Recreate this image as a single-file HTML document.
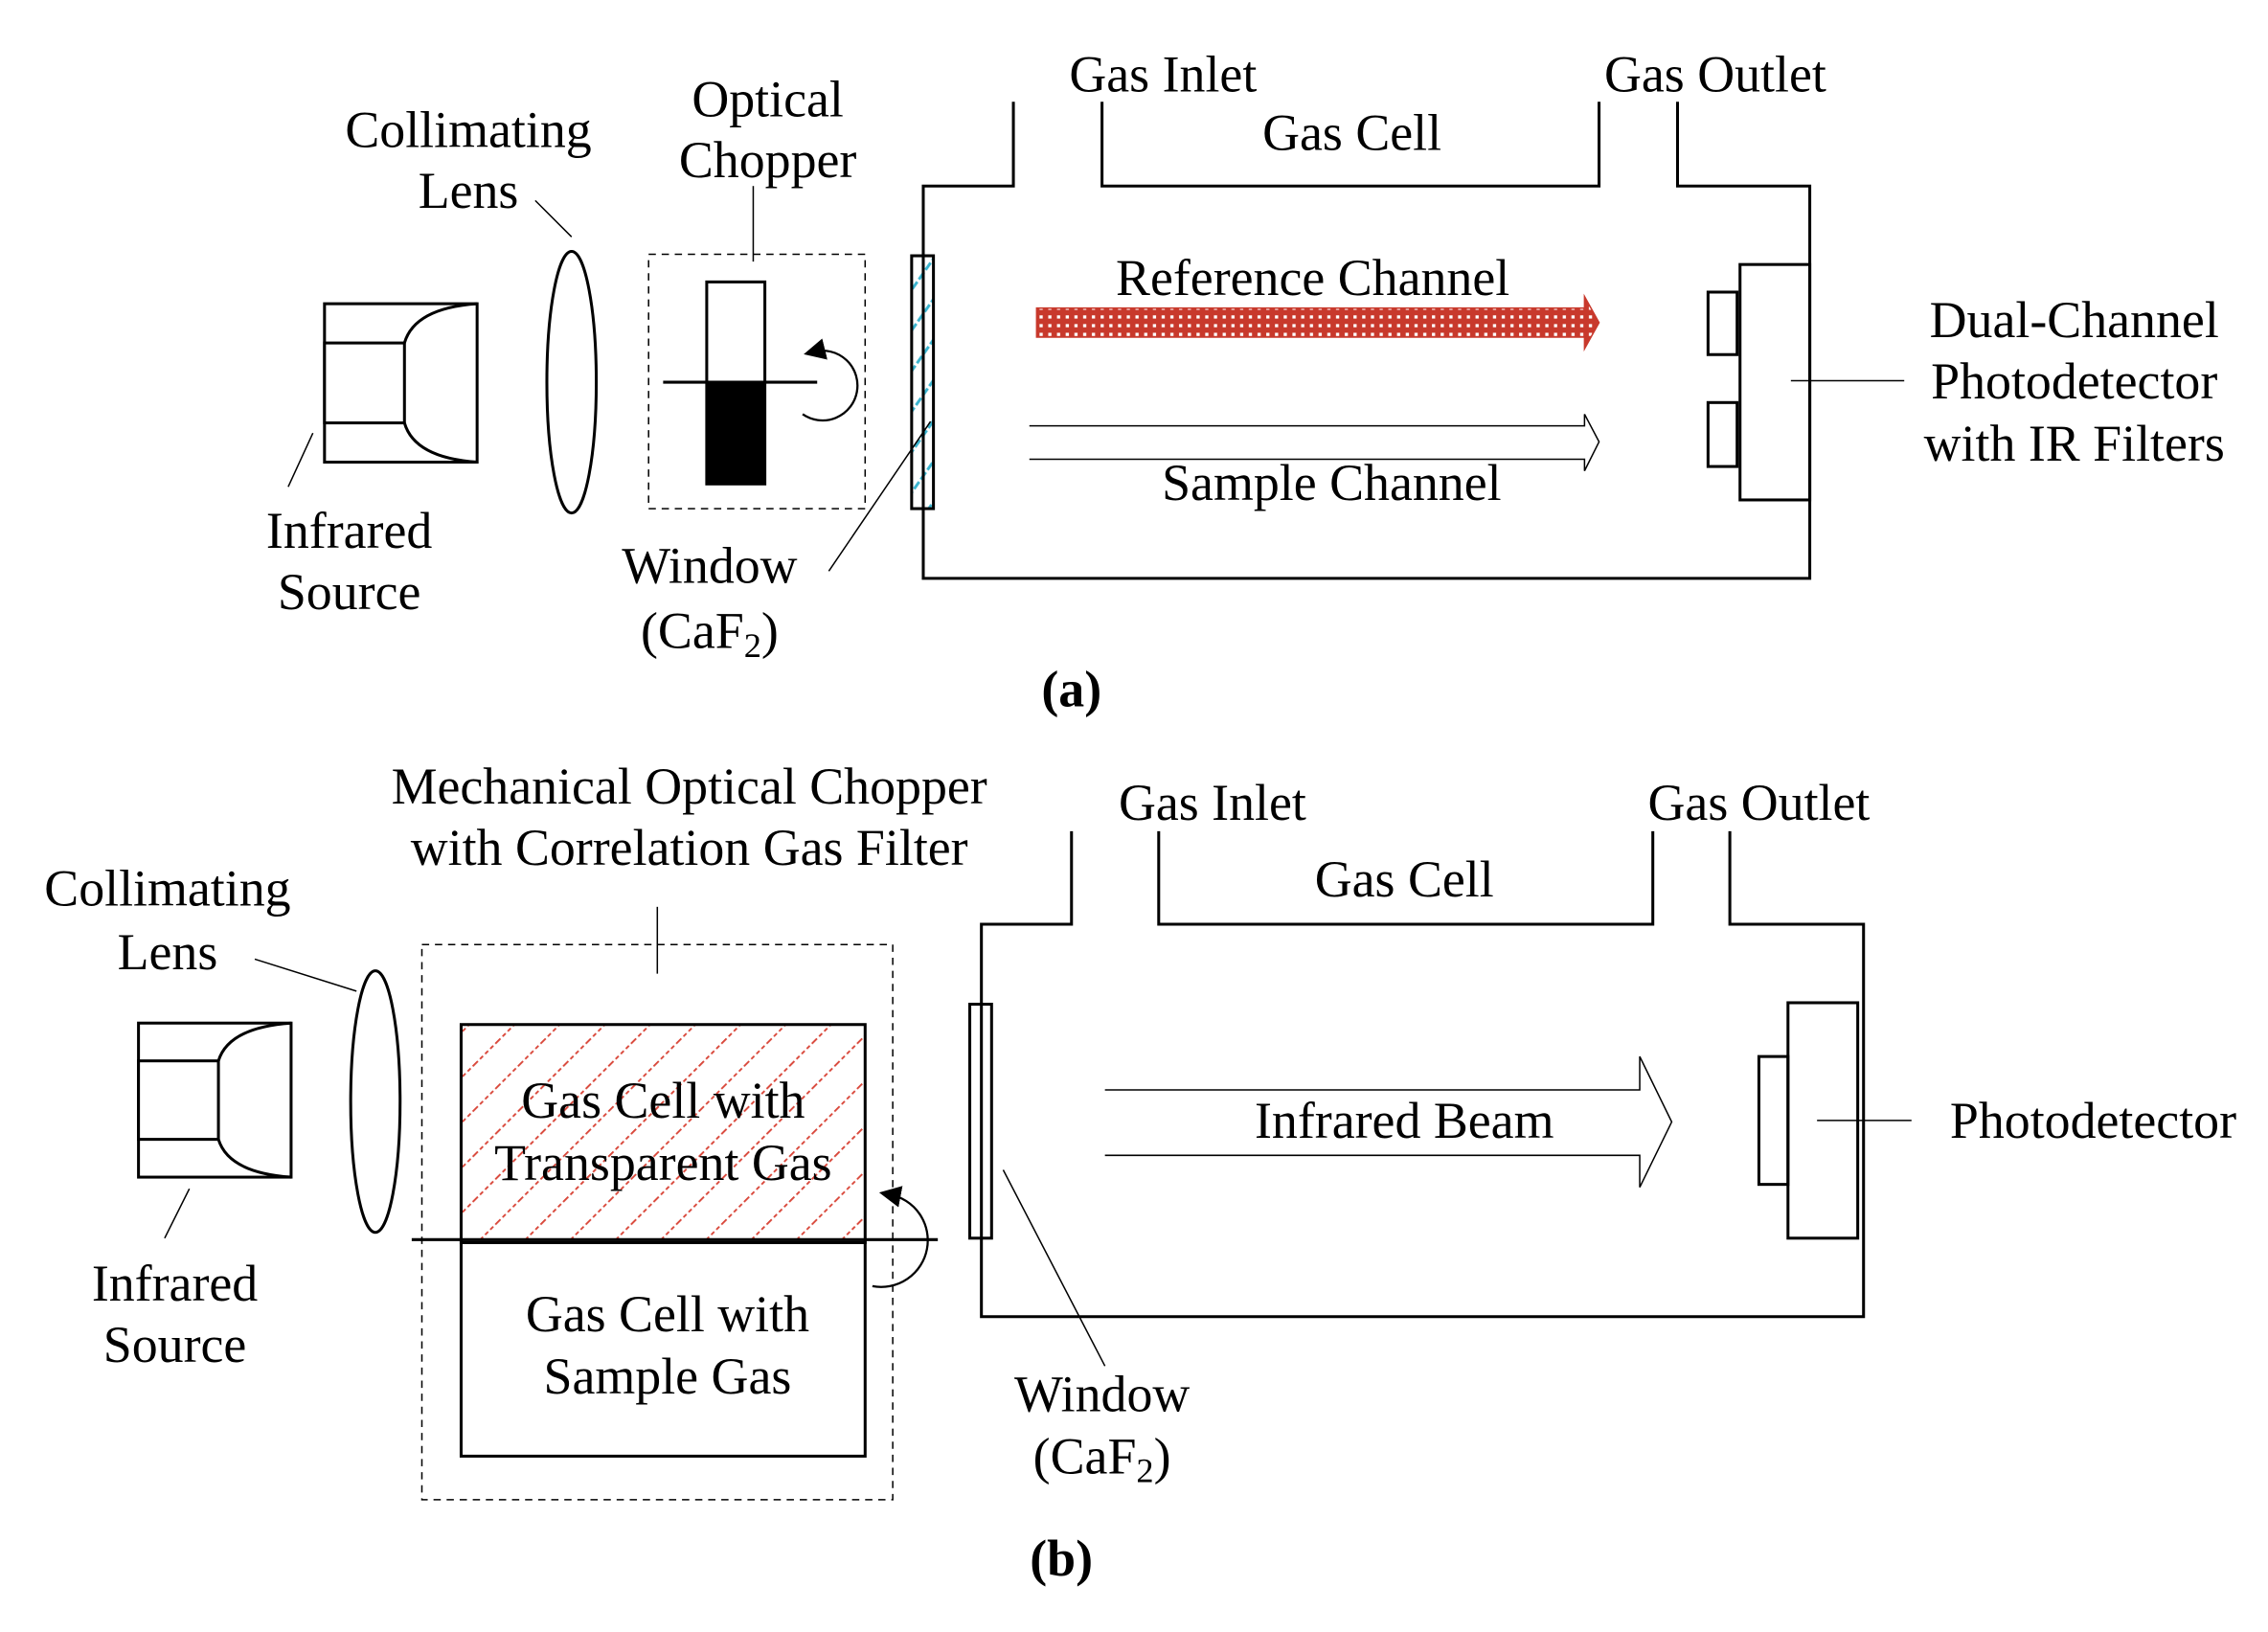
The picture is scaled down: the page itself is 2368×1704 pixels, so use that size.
<!DOCTYPE html>
<html><head><meta charset="utf-8"><style>
html,body{margin:0;padding:0;background:#fff;}
svg{display:block;}
text{font-family:"Liberation Serif",serif;font-size:35.5px;fill:#000;text-anchor:middle;}
</style></head><body>
<svg width="2368" height="1704" viewBox="0 0 1560 1123" xmlns="http://www.w3.org/2000/svg">
<defs>
<pattern id="cyan" width="8" height="16" patternUnits="userSpaceOnUse" patternTransform="rotate(-55)">
<line x1="0" y1="4" x2="8" y2="4" stroke="#3ab4cf" stroke-width="2" stroke-dasharray="3,2"/>
</pattern>
<pattern id="redh" width="22" height="22" patternUnits="userSpaceOnUse" patternTransform="rotate(45)">
<line x1="0" y1="0" x2="0" y2="22" stroke="#d9473a" stroke-width="2.5" stroke-dasharray="3,2"/>
</pattern>
<pattern id="dots" width="6" height="6" patternUnits="userSpaceOnUse">
<rect width="6" height="6" fill="#c8392c"/><rect x="1" y="1" width="2.2" height="2.2" fill="#fff"/>
</pattern>
<marker id="ah" markerWidth="10" markerHeight="10" refX="5" refY="5" orient="auto"><path d="M0,0 L10,5 L0,10 Z" fill="#000"/></marker>
</defs>
<g fill="none" stroke="#000" stroke-width="2">
<rect x="223" y="209" width="105" height="109"/>
<rect x="223" y="236" width="55" height="55" fill="#fff"/>
<path d="M278,236 Q285,212 328,209 M278,291 Q285,315 328,318" fill="none"/>
<line x1="198" y1="335" x2="215" y2="298" stroke-width="1"/>
<ellipse cx="393" cy="263" rx="17" ry="90"/>
<line x1="368" y1="138" x2="393" y2="163" stroke-width="1"/>
<rect x="446" y="175" width="149" height="175" stroke-dasharray="5,4" stroke-width="1"/>
<rect x="486" y="194" width="40" height="69"/>
<rect x="486" y="263" width="40" height="70" fill="#000"/>
<line x1="456" y1="263" x2="562" y2="263"/>
<path d="M552,285 A24,24 0 1,0 560,242" stroke-width="1.5" marker-end="url(#ah)"/>
<line x1="518" y1="128" x2="518" y2="180" stroke-width="1"/>
<rect x="627" y="176" width="15" height="174" fill="url(#cyan)"/>
<line x1="570" y1="393" x2="640" y2="290" stroke-width="1"/>
<polyline points="697,70 697,128 635,128 635,398 1245,398 1245,128 1154,128 1154,70"/>
<polyline points="758,70 758,128 1100,128 1100,70"/>
<path d="M713,212 L1090,212 L1090,204 L1100,222 L1090,240 L1090,232 L713,232 Z" fill="url(#dots)" stroke="#c8392c" stroke-width="1"/>
<path d="M708,293 L1090,293 L1090,285 L1100,304 L1090,324 L1090,316 L708,316" stroke-width="1"/>
<rect x="1197" y="182" width="48" height="162"/>
<rect x="1175" y="201" width="20" height="43"/>
<rect x="1175" y="277" width="20" height="44"/>
<line x1="1232" y1="262" x2="1310" y2="262" stroke-width="1"/>
<rect x="95" y="704" width="105" height="106"/>
<rect x="95" y="730" width="55" height="54" fill="#fff"/>
<path d="M150,730 Q157,707 200,704 M150,784 Q157,807 200,810"/>
<line x1="113" y1="852" x2="130" y2="818" stroke-width="1"/>
<ellipse cx="258" cy="758" rx="17" ry="90"/>
<line x1="175" y1="660" x2="245" y2="682" stroke-width="1"/>
<rect x="290" y="650" width="324" height="382" stroke-dasharray="5,4" stroke-width="1"/>
<line x1="452" y1="624" x2="452" y2="670" stroke-width="1"/>
<rect x="317" y="705" width="278" height="150" fill="url(#redh)"/>
<rect x="317" y="855" width="278" height="147"/>
<line x1="283" y1="853" x2="645" y2="853"/>
<path d="M600,885 A30,30 0 1,0 612,822" stroke-width="1.5" marker-end="url(#ah)"/>
<rect x="667" y="691" width="15" height="161"/>
<line x1="690" y1="805" x2="760" y2="940" stroke-width="1"/>
<polyline points="737,572 737,636 675,636 675,906 1282,906 1282,636 1190,636 1190,572"/>
<polyline points="797,572 797,636 1137,636 1137,572"/>
<path d="M760,750 L1128,750 L1128,727 L1150,772 L1128,817 L1128,795 L760,795" stroke-width="1"/>
<rect x="1230" y="690" width="48" height="162"/>
<rect x="1210" y="727" width="20" height="88"/>
<line x1="1250" y1="771" x2="1315" y2="771" stroke-width="1"/>
</g>
<text x="322" y="101">Collimating</text>
<text x="322" y="143">Lens</text>
<text x="528" y="80">Optical</text>
<text x="528" y="122">Chopper</text>
<text x="240" y="377">Infrared</text>
<text x="240" y="419">Source</text>
<text x="488" y="401">Window</text>
<text x="488" y="446">(CaF<tspan font-size="24" dy="6">2</tspan><tspan dy="-6">)</tspan></text>
<text x="800" y="63">Gas Inlet</text>
<text x="930" y="103">Gas Cell</text>
<text x="1180" y="63">Gas Outlet</text>
<text x="903" y="203">Reference Channel</text>
<text x="916" y="344">Sample Channel</text>
<text x="1427" y="232">Dual-Channel</text>
<text x="1427" y="274">Photodetector</text>
<text x="1427" y="317">with IR Filters</text>
<text x="737" y="486" font-weight="bold" font-size="43">(a)</text>
<text x="474" y="553">Mechanical Optical Chopper</text>
<text x="474" y="595">with Correlation Gas Filter</text>
<text x="115" y="623">Collimating</text>
<text x="115" y="667">Lens</text>
<text x="120" y="895">Infrared</text>
<text x="120" y="937">Source</text>
<text x="456" y="769">Gas Cell with</text>
<text x="456" y="812">Transparent Gas</text>
<text x="459" y="916">Gas Cell with</text>
<text x="459" y="959">Sample Gas</text>
<text x="834" y="564">Gas Inlet</text>
<text x="966" y="617">Gas Cell</text>
<text x="1210" y="564">Gas Outlet</text>
<text x="966" y="783">Infrared Beam</text>
<text x="1440" y="783">Photodetector</text>
<text x="758" y="971">Window</text>
<text x="758" y="1014">(CaF<tspan font-size="24" dy="6">2</tspan><tspan dy="-6">)</tspan></text>
<text x="730" y="1084" font-weight="bold" font-size="43">(b)</text>
</svg>
</body></html>
